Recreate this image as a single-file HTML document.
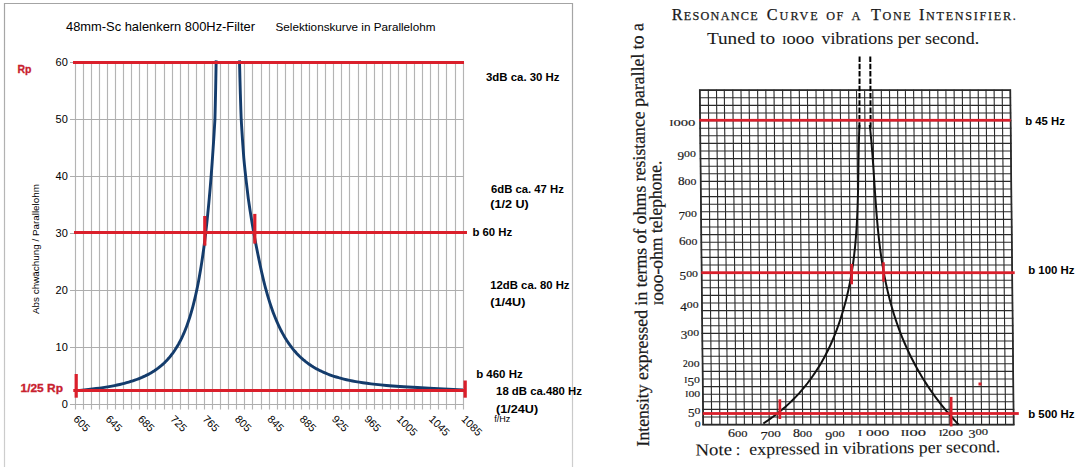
<!DOCTYPE html>
<html><head><meta charset="utf-8"><style>
html,body{margin:0;padding:0;background:#fff;width:1079px;height:467px;overflow:hidden}
svg{display:block}
</style></head><body>
<svg width="1079" height="467" viewBox="0 0 1079 467"><defs><linearGradient id="bg" x1="0" y1="0" x2="0" y2="1"><stop offset="0" stop-color="#a4a4a4"/><stop offset="1" stop-color="#cfcfcf"/></linearGradient></defs>
<path d="M4.5,467 V3.5 H572.5 V467" fill="none" stroke="url(#bg)" stroke-width="1.2"/>
<line x1="75.50" y1="62" x2="75.50" y2="409.5" stroke="#b4b4b4" stroke-width="1.15"/>
<line x1="83.50" y1="62" x2="83.50" y2="409.5" stroke="#b4b4b4" stroke-width="1.15"/>
<line x1="91.50" y1="62" x2="91.50" y2="409.5" stroke="#b4b4b4" stroke-width="1.15"/>
<line x1="99.50" y1="62" x2="99.50" y2="409.5" stroke="#b4b4b4" stroke-width="1.15"/>
<line x1="107.50" y1="62" x2="107.50" y2="409.5" stroke="#b4b4b4" stroke-width="1.15"/>
<line x1="115.50" y1="62" x2="115.50" y2="409.5" stroke="#b4b4b4" stroke-width="1.15"/>
<line x1="123.50" y1="62" x2="123.50" y2="409.5" stroke="#b4b4b4" stroke-width="1.15"/>
<line x1="131.50" y1="62" x2="131.50" y2="409.5" stroke="#b4b4b4" stroke-width="1.15"/>
<line x1="139.50" y1="62" x2="139.50" y2="409.5" stroke="#b4b4b4" stroke-width="1.15"/>
<line x1="147.50" y1="62" x2="147.50" y2="409.5" stroke="#b4b4b4" stroke-width="1.15"/>
<line x1="155.50" y1="62" x2="155.50" y2="409.5" stroke="#b4b4b4" stroke-width="1.15"/>
<line x1="164.50" y1="62" x2="164.50" y2="409.5" stroke="#b4b4b4" stroke-width="1.15"/>
<line x1="172.50" y1="62" x2="172.50" y2="409.5" stroke="#b4b4b4" stroke-width="1.15"/>
<line x1="180.50" y1="62" x2="180.50" y2="409.5" stroke="#b4b4b4" stroke-width="1.15"/>
<line x1="188.50" y1="62" x2="188.50" y2="409.5" stroke="#b4b4b4" stroke-width="1.15"/>
<line x1="196.50" y1="62" x2="196.50" y2="409.5" stroke="#b4b4b4" stroke-width="1.15"/>
<line x1="204.50" y1="62" x2="204.50" y2="409.5" stroke="#b4b4b4" stroke-width="1.15"/>
<line x1="212.50" y1="62" x2="212.50" y2="409.5" stroke="#b4b4b4" stroke-width="1.15"/>
<line x1="220.50" y1="62" x2="220.50" y2="409.5" stroke="#b4b4b4" stroke-width="1.15"/>
<line x1="228.50" y1="62" x2="228.50" y2="409.5" stroke="#b4b4b4" stroke-width="1.15"/>
<line x1="236.50" y1="62" x2="236.50" y2="409.5" stroke="#b4b4b4" stroke-width="1.15"/>
<line x1="244.50" y1="62" x2="244.50" y2="409.5" stroke="#b4b4b4" stroke-width="1.15"/>
<line x1="252.50" y1="62" x2="252.50" y2="409.5" stroke="#b4b4b4" stroke-width="1.15"/>
<line x1="261.50" y1="62" x2="261.50" y2="409.5" stroke="#b4b4b4" stroke-width="1.15"/>
<line x1="269.50" y1="62" x2="269.50" y2="409.5" stroke="#b4b4b4" stroke-width="1.15"/>
<line x1="277.50" y1="62" x2="277.50" y2="409.5" stroke="#b4b4b4" stroke-width="1.15"/>
<line x1="285.50" y1="62" x2="285.50" y2="409.5" stroke="#b4b4b4" stroke-width="1.15"/>
<line x1="293.50" y1="62" x2="293.50" y2="409.5" stroke="#b4b4b4" stroke-width="1.15"/>
<line x1="301.50" y1="62" x2="301.50" y2="409.5" stroke="#b4b4b4" stroke-width="1.15"/>
<line x1="309.50" y1="62" x2="309.50" y2="409.5" stroke="#b4b4b4" stroke-width="1.15"/>
<line x1="317.50" y1="62" x2="317.50" y2="409.5" stroke="#b4b4b4" stroke-width="1.15"/>
<line x1="325.50" y1="62" x2="325.50" y2="409.5" stroke="#b4b4b4" stroke-width="1.15"/>
<line x1="333.50" y1="62" x2="333.50" y2="409.5" stroke="#b4b4b4" stroke-width="1.15"/>
<line x1="341.50" y1="62" x2="341.50" y2="409.5" stroke="#b4b4b4" stroke-width="1.15"/>
<line x1="349.50" y1="62" x2="349.50" y2="409.5" stroke="#b4b4b4" stroke-width="1.15"/>
<line x1="358.50" y1="62" x2="358.50" y2="409.5" stroke="#b4b4b4" stroke-width="1.15"/>
<line x1="366.50" y1="62" x2="366.50" y2="409.5" stroke="#b4b4b4" stroke-width="1.15"/>
<line x1="374.50" y1="62" x2="374.50" y2="409.5" stroke="#b4b4b4" stroke-width="1.15"/>
<line x1="382.50" y1="62" x2="382.50" y2="409.5" stroke="#b4b4b4" stroke-width="1.15"/>
<line x1="390.50" y1="62" x2="390.50" y2="409.5" stroke="#b4b4b4" stroke-width="1.15"/>
<line x1="398.50" y1="62" x2="398.50" y2="409.5" stroke="#b4b4b4" stroke-width="1.15"/>
<line x1="406.50" y1="62" x2="406.50" y2="409.5" stroke="#b4b4b4" stroke-width="1.15"/>
<line x1="414.50" y1="62" x2="414.50" y2="409.5" stroke="#b4b4b4" stroke-width="1.15"/>
<line x1="422.50" y1="62" x2="422.50" y2="409.5" stroke="#b4b4b4" stroke-width="1.15"/>
<line x1="430.50" y1="62" x2="430.50" y2="409.5" stroke="#b4b4b4" stroke-width="1.15"/>
<line x1="438.50" y1="62" x2="438.50" y2="409.5" stroke="#b4b4b4" stroke-width="1.15"/>
<line x1="446.50" y1="62" x2="446.50" y2="409.5" stroke="#b4b4b4" stroke-width="1.15"/>
<line x1="455.50" y1="62" x2="455.50" y2="409.5" stroke="#b4b4b4" stroke-width="1.15"/>
<line x1="463.50" y1="62" x2="463.50" y2="409.5" stroke="#b4b4b4" stroke-width="1.15"/>
<line x1="70" y1="404.50" x2="463.5" y2="404.50" stroke="#adadad" stroke-width="1"/>
<text x="67.8" y="408.10" font-family="Liberation Sans, sans-serif" font-size="11" fill="#000" text-anchor="end">0</text>
<line x1="70" y1="347.50" x2="463.5" y2="347.50" stroke="#adadad" stroke-width="1"/>
<text x="67.8" y="351.10" font-family="Liberation Sans, sans-serif" font-size="11" fill="#000" text-anchor="end">10</text>
<line x1="70" y1="290.50" x2="463.5" y2="290.50" stroke="#adadad" stroke-width="1"/>
<text x="67.8" y="294.10" font-family="Liberation Sans, sans-serif" font-size="11" fill="#000" text-anchor="end">20</text>
<line x1="70" y1="233.50" x2="463.5" y2="233.50" stroke="#adadad" stroke-width="1"/>
<text x="67.8" y="237.10" font-family="Liberation Sans, sans-serif" font-size="11" fill="#000" text-anchor="end">30</text>
<line x1="70" y1="176.50" x2="463.5" y2="176.50" stroke="#adadad" stroke-width="1"/>
<text x="67.8" y="180.10" font-family="Liberation Sans, sans-serif" font-size="11" fill="#000" text-anchor="end">40</text>
<line x1="70" y1="119.50" x2="463.5" y2="119.50" stroke="#adadad" stroke-width="1"/>
<text x="67.8" y="123.10" font-family="Liberation Sans, sans-serif" font-size="11" fill="#000" text-anchor="end">50</text>
<line x1="70" y1="62.50" x2="463.5" y2="62.50" stroke="#adadad" stroke-width="1"/>
<text x="67.8" y="66.10" font-family="Liberation Sans, sans-serif" font-size="11" fill="#000" text-anchor="end">60</text>
<text transform="translate(72.70,419.8) rotate(45)" font-family="Liberation Sans, sans-serif" font-size="10.8" fill="#000">605</text>
<text transform="translate(105.03,419.8) rotate(45)" font-family="Liberation Sans, sans-serif" font-size="10.8" fill="#000">645</text>
<text transform="translate(137.36,419.8) rotate(45)" font-family="Liberation Sans, sans-serif" font-size="10.8" fill="#000">685</text>
<text transform="translate(169.70,419.8) rotate(45)" font-family="Liberation Sans, sans-serif" font-size="10.8" fill="#000">725</text>
<text transform="translate(202.03,419.8) rotate(45)" font-family="Liberation Sans, sans-serif" font-size="10.8" fill="#000">765</text>
<text transform="translate(234.36,419.8) rotate(45)" font-family="Liberation Sans, sans-serif" font-size="10.8" fill="#000">805</text>
<text transform="translate(266.69,419.8) rotate(45)" font-family="Liberation Sans, sans-serif" font-size="10.8" fill="#000">845</text>
<text transform="translate(299.02,419.8) rotate(45)" font-family="Liberation Sans, sans-serif" font-size="10.8" fill="#000">885</text>
<text transform="translate(331.36,419.8) rotate(45)" font-family="Liberation Sans, sans-serif" font-size="10.8" fill="#000">925</text>
<text transform="translate(363.69,419.8) rotate(45)" font-family="Liberation Sans, sans-serif" font-size="10.8" fill="#000">965</text>
<text transform="translate(396.02,419.8) rotate(45)" font-family="Liberation Sans, sans-serif" font-size="10.8" fill="#000">1005</text>
<text transform="translate(428.35,419.8) rotate(45)" font-family="Liberation Sans, sans-serif" font-size="10.8" fill="#000">1045</text>
<text transform="translate(460.68,419.8) rotate(45)" font-family="Liberation Sans, sans-serif" font-size="10.8" fill="#000">1085</text>
<text x="494.2" y="422.2" font-family="Liberation Sans, sans-serif" font-size="9.2" fill="#000" textLength="16" lengthAdjust="spacingAndGlyphs" >f/Hz</text>
<path d="M216.19,60.35 L216.00,69.45 L215.85,78.32 L215.69,86.94 L215.51,95.34 L215.33,103.52 L215.13,111.48 L214.93,119.23 L214.49,126.78 L214.05,134.12 L213.60,141.27 L213.14,148.23 L212.68,155.01 L212.22,161.61 L211.75,168.03 L211.27,174.29 L210.79,180.38 L210.31,186.30 L209.81,192.07 L209.32,197.69 L208.82,203.16 L208.31,208.48 L207.79,213.66 L207.28,218.71 L206.75,223.62 L206.22,228.40 L205.68,233.06 L205.14,237.59 L204.59,242.00 L204.03,246.30 L203.47,250.48 L202.90,254.55 L202.33,258.52 L201.74,262.38 L201.15,266.13 L200.56,269.79 L199.95,273.35 L199.34,276.81 L198.72,280.19 L198.10,283.47 L197.46,286.67 L196.82,289.79 L196.17,292.82 L195.51,295.77 L194.84,298.64 L194.17,301.44 L193.48,304.16 L192.79,306.81 L192.09,309.39 L191.38,311.90 L190.65,314.35 L189.92,316.73 L189.18,319.05 L188.43,321.30 L187.67,323.50 L186.89,325.64 L186.11,327.72 L185.32,329.75 L184.51,331.72 L183.69,333.64 L182.86,335.51 L182.01,337.33 L181.16,339.10 L180.29,340.83 L179.40,342.51 L178.51,344.15 L177.59,345.74 L176.67,347.29 L175.73,348.80 L174.77,350.27 L173.79,351.70 L172.80,353.09 L171.79,354.44 L170.77,355.76 L169.72,357.05 L168.66,358.30 L167.58,359.52 L166.47,360.70 L165.35,361.86 L164.20,362.98 L163.03,364.07 L161.83,365.14 L160.61,366.17 L159.37,367.18 L158.10,368.17 L156.80,369.12 L155.47,370.05 L154.11,370.96 L152.72,371.84 L151.29,372.70 L149.83,373.54 L148.33,374.35 L146.80,375.14 L145.22,375.92 L143.60,376.67 L141.94,377.40 L140.22,378.11 L138.46,378.82 L136.64,379.51 L134.77,380.19 L132.83,380.85 L130.84,381.49 L128.77,382.12 L126.63,382.73 L124.41,383.32 L122.10,383.91 L119.71,384.48 L117.21,385.03 L114.61,385.57 L111.89,386.10 L109.05,386.62 L106.06,387.12 L102.93,387.61 L99.62,388.09 L96.13,388.56 L92.44,389.02 L88.51,389.47 L84.31,389.91 L79.83,390.34 L75.00,390.77" fill="none" stroke="#143c6c" stroke-width="2.9" stroke-linejoin="round"/>
<path d="M239.45,60.35 L239.71,69.12 L239.91,77.66 L240.13,85.99 L240.36,94.10 L240.60,102.01 L240.86,109.71 L241.13,117.22 L241.52,124.54 L241.96,131.67 L242.42,138.62 L242.88,145.39 L243.35,151.99 L243.83,158.42 L244.43,164.69 L245.08,170.80 L245.73,176.75 L246.39,182.55 L247.05,188.20 L247.71,193.71 L248.38,199.08 L249.14,204.31 L249.91,209.41 L250.69,214.38 L251.47,219.22 L252.26,223.94 L253.04,228.53 L253.83,233.01 L254.61,237.38 L255.40,241.63 L256.19,245.78 L256.98,249.82 L257.78,253.76 L258.58,257.60 L259.37,261.34 L260.11,264.98 L260.86,268.53 L261.62,271.99 L262.39,275.36 L263.16,278.65 L263.94,281.85 L264.73,284.98 L265.53,288.02 L266.33,290.98 L267.14,293.87 L267.96,296.68 L268.79,299.43 L269.63,302.10 L270.48,304.71 L271.34,307.24 L272.20,309.72 L273.08,312.13 L273.96,314.48 L274.86,316.77 L275.77,319.00 L276.68,321.17 L277.61,323.29 L278.55,325.36 L279.51,327.37 L280.47,329.33 L281.45,331.24 L282.44,333.10 L283.44,334.92 L284.46,336.69 L285.50,338.41 L286.54,340.09 L287.61,341.73 L288.69,343.32 L289.78,344.88 L290.90,346.39 L292.03,347.87 L293.18,349.31 L294.35,350.71 L295.54,352.07 L296.75,353.40 L297.99,354.70 L299.24,355.97 L300.53,357.20 L301.83,358.40 L303.17,359.58 L304.53,360.72 L305.92,361.84 L307.34,362.92 L308.80,363.98 L310.29,365.01 L311.81,366.02 L313.38,367.00 L314.98,367.95 L316.63,368.89 L318.33,369.79 L320.07,370.68 L321.87,371.54 L323.72,372.38 L325.63,373.20 L327.61,374.00 L329.66,374.78 L331.78,375.54 L333.99,376.28 L336.29,377.00 L338.68,377.71 L341.18,378.39 L343.80,379.06 L346.55,379.72 L349.44,380.35 L352.50,380.97 L355.74,381.58 L359.18,382.17 L362.86,382.75 L366.81,383.31 L371.08,383.86 L375.72,384.40 L380.79,384.93 L386.40,385.47 L392.66,386.00 L399.75,386.53 L407.90,387.05 L417.48,387.57 L429.05,388.26 L443.60,389.06 L463.00,389.98" fill="none" stroke="#143c6c" stroke-width="2.9" stroke-linejoin="round"/>
<rect x="73.00" y="61.00" width="391.00" height="3.00" fill="#da1f2b"/>
<rect x="74.00" y="231.00" width="393.00" height="3.00" fill="#da1f2b"/>
<rect x="73.30" y="389.00" width="392.70" height="3.00" fill="#da1f2b"/>
<rect x="74.60" y="374.00" width="3.20" height="23.70" fill="#da1f2b"/>
<rect x="463.50" y="380.50" width="3.30" height="17.20" fill="#da1f2b"/>
<rect x="203.20" y="216.00" width="3.20" height="29.60" fill="#da1f2b"/>
<rect x="253.20" y="213.90" width="3.20" height="29.70" fill="#da1f2b"/>
<text x="66" y="30.8" font-family="Liberation Sans, sans-serif" font-size="13" fill="#000" textLength="189" lengthAdjust="spacingAndGlyphs" >48mm-Sc halenkern 800Hz-Filter</text>
<text x="275.5" y="30.8" font-family="Liberation Sans, sans-serif" font-size="11" fill="#000" textLength="160" lengthAdjust="spacingAndGlyphs" >Selektionskurve in Parallelohm</text>
<text transform="translate(38.6,314) rotate(-90)" font-family="Liberation Sans, sans-serif" font-size="9" fill="#000" textLength="130" lengthAdjust="spacingAndGlyphs">Abs chwächung / Parallelohm</text>
<text x="17.5" y="72.7" font-family="Liberation Sans, sans-serif" font-weight="bold" font-size="10.8" fill="#c8202e" textLength="14" lengthAdjust="spacingAndGlyphs" stroke="#c8202e" stroke-width="0.3">Rp</text>
<text x="20.5" y="391.9" font-family="Liberation Sans, sans-serif" font-weight="bold" font-size="10.8" fill="#c8202e" textLength="42.5" lengthAdjust="spacingAndGlyphs" stroke="#c8202e" stroke-width="0.3">1/25 Rp</text>
<text x="486" y="80.6" font-family="Liberation Sans, sans-serif" font-weight="bold" font-size="10.5" fill="#000" textLength="73.5" lengthAdjust="spacingAndGlyphs" >3dB ca. 30 Hz</text>
<text x="491" y="192.5" font-family="Liberation Sans, sans-serif" font-weight="bold" font-size="10.5" fill="#000" textLength="72.8" lengthAdjust="spacingAndGlyphs" >6dB ca. 47 Hz</text>
<text x="490.3" y="208.2" font-family="Liberation Sans, sans-serif" font-weight="bold" font-size="10.5" fill="#000" textLength="38.5" lengthAdjust="spacingAndGlyphs" >(1/2 U)</text>
<text x="472.4" y="236" font-family="Liberation Sans, sans-serif" font-weight="bold" font-size="10.5" fill="#000" textLength="39.8" lengthAdjust="spacingAndGlyphs" >b 60 Hz</text>
<text x="490.3" y="288.7" font-family="Liberation Sans, sans-serif" font-weight="bold" font-size="10.5" fill="#000" textLength="79.2" lengthAdjust="spacingAndGlyphs" >12dB ca. 80 Hz</text>
<text x="490.3" y="305.9" font-family="Liberation Sans, sans-serif" font-weight="bold" font-size="10.5" fill="#000" textLength="35.2" lengthAdjust="spacingAndGlyphs" >(1/4U)</text>
<text x="476.2" y="377.9" font-family="Liberation Sans, sans-serif" font-weight="bold" font-size="10.5" fill="#000" textLength="46.5" lengthAdjust="spacingAndGlyphs" >b 460 Hz</text>
<text x="496.1" y="394.6" font-family="Liberation Sans, sans-serif" font-weight="bold" font-size="10.5" fill="#000" textLength="85.8" lengthAdjust="spacingAndGlyphs" >18 dB ca.480 Hz</text>
<text x="496.1" y="412.6" font-family="Liberation Sans, sans-serif" font-weight="bold" font-size="10.5" fill="#000" textLength="42" lengthAdjust="spacingAndGlyphs" >(1/24U)</text>
<line x1="572.5" y1="3" x2="572.5" y2="467" stroke="url(#bg)" stroke-width="1.2"/>
<g transform="matrix(1,0,0.01018,1,-0.918,0)">
<line x1="699.80" y1="89.7" x2="699.80" y2="425.10" stroke="#2a2a2a" stroke-width="1.1"/>
<line x1="708.30" y1="89.7" x2="708.30" y2="425.10" stroke="#2a2a2a" stroke-width="1.1"/>
<line x1="716.50" y1="89.7" x2="716.50" y2="425.10" stroke="#2a2a2a" stroke-width="1.1"/>
<line x1="724.30" y1="89.7" x2="724.30" y2="425.10" stroke="#2a2a2a" stroke-width="1.1"/>
<line x1="732.80" y1="89.7" x2="732.80" y2="425.10" stroke="#2a2a2a" stroke-width="1.1"/>
<line x1="741.00" y1="89.7" x2="741.00" y2="425.10" stroke="#2a2a2a" stroke-width="1.1"/>
<line x1="749.10" y1="89.7" x2="749.10" y2="425.10" stroke="#2a2a2a" stroke-width="1.1"/>
<line x1="757.60" y1="89.7" x2="757.60" y2="425.10" stroke="#2a2a2a" stroke-width="1.1"/>
<line x1="765.80" y1="89.7" x2="765.80" y2="425.10" stroke="#2a2a2a" stroke-width="1.1"/>
<line x1="774.00" y1="89.7" x2="774.00" y2="425.10" stroke="#2a2a2a" stroke-width="1.1"/>
<line x1="782.60" y1="89.7" x2="782.60" y2="425.10" stroke="#2a2a2a" stroke-width="1.1"/>
<line x1="790.80" y1="89.7" x2="790.80" y2="425.10" stroke="#2a2a2a" stroke-width="1.1"/>
<line x1="799.30" y1="89.7" x2="799.30" y2="425.10" stroke="#2a2a2a" stroke-width="1.1"/>
<line x1="807.40" y1="89.7" x2="807.40" y2="425.10" stroke="#2a2a2a" stroke-width="1.1"/>
<line x1="816.00" y1="89.7" x2="816.00" y2="425.10" stroke="#2a2a2a" stroke-width="1.1"/>
<line x1="823.70" y1="89.7" x2="823.70" y2="425.10" stroke="#2a2a2a" stroke-width="1.1"/>
<line x1="831.90" y1="89.7" x2="831.90" y2="425.10" stroke="#2a2a2a" stroke-width="1.1"/>
<line x1="840.20" y1="89.7" x2="840.20" y2="425.10" stroke="#2a2a2a" stroke-width="1.1"/>
<line x1="848.60" y1="89.7" x2="848.60" y2="425.10" stroke="#2a2a2a" stroke-width="1.1"/>
<line x1="856.50" y1="89.7" x2="856.50" y2="425.10" stroke="#2a2a2a" stroke-width="1.1"/>
<line x1="864.60" y1="89.7" x2="864.60" y2="425.10" stroke="#2a2a2a" stroke-width="1.1"/>
<line x1="872.80" y1="89.7" x2="872.80" y2="425.10" stroke="#2a2a2a" stroke-width="1.1"/>
<line x1="881.30" y1="89.7" x2="881.30" y2="425.10" stroke="#2a2a2a" stroke-width="1.1"/>
<line x1="889.50" y1="89.7" x2="889.50" y2="425.10" stroke="#2a2a2a" stroke-width="1.1"/>
<line x1="897.60" y1="89.7" x2="897.60" y2="425.10" stroke="#2a2a2a" stroke-width="1.1"/>
<line x1="905.40" y1="89.7" x2="905.40" y2="425.10" stroke="#2a2a2a" stroke-width="1.1"/>
<line x1="913.60" y1="89.7" x2="913.60" y2="425.10" stroke="#2a2a2a" stroke-width="1.1"/>
<line x1="921.80" y1="89.7" x2="921.80" y2="425.10" stroke="#2a2a2a" stroke-width="1.1"/>
<line x1="929.60" y1="89.7" x2="929.60" y2="425.10" stroke="#2a2a2a" stroke-width="1.1"/>
<line x1="937.80" y1="89.7" x2="937.80" y2="425.10" stroke="#2a2a2a" stroke-width="1.1"/>
<line x1="945.90" y1="89.7" x2="945.90" y2="425.10" stroke="#2a2a2a" stroke-width="1.1"/>
<line x1="954.10" y1="89.7" x2="954.10" y2="425.10" stroke="#2a2a2a" stroke-width="1.1"/>
<line x1="962.30" y1="89.7" x2="962.30" y2="425.10" stroke="#2a2a2a" stroke-width="1.1"/>
<line x1="970.00" y1="89.7" x2="970.00" y2="425.10" stroke="#2a2a2a" stroke-width="1.1"/>
<line x1="978.20" y1="89.7" x2="978.20" y2="425.10" stroke="#2a2a2a" stroke-width="1.1"/>
<line x1="986.00" y1="89.7" x2="986.00" y2="425.10" stroke="#2a2a2a" stroke-width="1.1"/>
<line x1="994.10" y1="89.7" x2="994.10" y2="425.10" stroke="#2a2a2a" stroke-width="1.1"/>
<line x1="1002.20" y1="89.7" x2="1002.20" y2="425.10" stroke="#2a2a2a" stroke-width="1.1"/>
<line x1="1010.30" y1="89.7" x2="1010.30" y2="425.10" stroke="#2a2a2a" stroke-width="1.1"/>
<line x1="699.0999999999999" y1="90.20" x2="1011.00" y2="90.20" stroke="#2a2a2a" stroke-width="1.1"/>
<line x1="699.0999999999999" y1="97.80" x2="1011.00" y2="97.80" stroke="#2a2a2a" stroke-width="1.1"/>
<line x1="699.0999999999999" y1="105.40" x2="1011.00" y2="105.40" stroke="#2a2a2a" stroke-width="1.1"/>
<line x1="699.0999999999999" y1="113.00" x2="1011.00" y2="113.00" stroke="#2a2a2a" stroke-width="1.1"/>
<line x1="699.0999999999999" y1="120.60" x2="1011.00" y2="120.60" stroke="#2a2a2a" stroke-width="1.1"/>
<line x1="699.0999999999999" y1="128.20" x2="1011.00" y2="128.20" stroke="#2a2a2a" stroke-width="1.1"/>
<line x1="699.0999999999999" y1="135.80" x2="1011.00" y2="135.80" stroke="#2a2a2a" stroke-width="1.1"/>
<line x1="699.0999999999999" y1="143.40" x2="1011.00" y2="143.40" stroke="#2a2a2a" stroke-width="1.1"/>
<line x1="699.0999999999999" y1="151.00" x2="1011.00" y2="151.00" stroke="#2a2a2a" stroke-width="1.1"/>
<line x1="699.0999999999999" y1="158.60" x2="1011.00" y2="158.60" stroke="#2a2a2a" stroke-width="1.1"/>
<line x1="699.0999999999999" y1="166.20" x2="1011.00" y2="166.20" stroke="#2a2a2a" stroke-width="1.1"/>
<line x1="699.0999999999999" y1="173.80" x2="1011.00" y2="173.80" stroke="#2a2a2a" stroke-width="1.1"/>
<line x1="699.0999999999999" y1="181.40" x2="1011.00" y2="181.40" stroke="#2a2a2a" stroke-width="1.1"/>
<line x1="699.0999999999999" y1="189.00" x2="1011.00" y2="189.00" stroke="#2a2a2a" stroke-width="1.1"/>
<line x1="699.0999999999999" y1="196.60" x2="1011.00" y2="196.60" stroke="#2a2a2a" stroke-width="1.1"/>
<line x1="699.0999999999999" y1="204.20" x2="1011.00" y2="204.20" stroke="#2a2a2a" stroke-width="1.1"/>
<line x1="699.0999999999999" y1="211.80" x2="1011.00" y2="211.80" stroke="#2a2a2a" stroke-width="1.1"/>
<line x1="699.0999999999999" y1="219.40" x2="1011.00" y2="219.40" stroke="#2a2a2a" stroke-width="1.1"/>
<line x1="699.0999999999999" y1="227.00" x2="1011.00" y2="227.00" stroke="#2a2a2a" stroke-width="1.1"/>
<line x1="699.0999999999999" y1="234.60" x2="1011.00" y2="234.60" stroke="#2a2a2a" stroke-width="1.1"/>
<line x1="699.0999999999999" y1="242.20" x2="1011.00" y2="242.20" stroke="#2a2a2a" stroke-width="1.1"/>
<line x1="699.0999999999999" y1="249.80" x2="1011.00" y2="249.80" stroke="#2a2a2a" stroke-width="1.1"/>
<line x1="699.0999999999999" y1="257.40" x2="1011.00" y2="257.40" stroke="#2a2a2a" stroke-width="1.1"/>
<line x1="699.0999999999999" y1="265.00" x2="1011.00" y2="265.00" stroke="#2a2a2a" stroke-width="1.1"/>
<line x1="699.0999999999999" y1="272.60" x2="1011.00" y2="272.60" stroke="#2a2a2a" stroke-width="1.1"/>
<line x1="699.0999999999999" y1="280.20" x2="1011.00" y2="280.20" stroke="#2a2a2a" stroke-width="1.1"/>
<line x1="699.0999999999999" y1="287.80" x2="1011.00" y2="287.80" stroke="#2a2a2a" stroke-width="1.1"/>
<line x1="699.0999999999999" y1="295.40" x2="1011.00" y2="295.40" stroke="#2a2a2a" stroke-width="1.1"/>
<line x1="699.0999999999999" y1="303.00" x2="1011.00" y2="303.00" stroke="#2a2a2a" stroke-width="1.1"/>
<line x1="699.0999999999999" y1="310.60" x2="1011.00" y2="310.60" stroke="#2a2a2a" stroke-width="1.1"/>
<line x1="699.0999999999999" y1="318.20" x2="1011.00" y2="318.20" stroke="#2a2a2a" stroke-width="1.1"/>
<line x1="699.0999999999999" y1="325.80" x2="1011.00" y2="325.80" stroke="#2a2a2a" stroke-width="1.1"/>
<line x1="699.0999999999999" y1="333.40" x2="1011.00" y2="333.40" stroke="#2a2a2a" stroke-width="1.1"/>
<line x1="699.0999999999999" y1="341.00" x2="1011.00" y2="341.00" stroke="#2a2a2a" stroke-width="1.1"/>
<line x1="699.0999999999999" y1="348.60" x2="1011.00" y2="348.60" stroke="#2a2a2a" stroke-width="1.1"/>
<line x1="699.0999999999999" y1="356.20" x2="1011.00" y2="356.20" stroke="#2a2a2a" stroke-width="1.1"/>
<line x1="699.0999999999999" y1="363.80" x2="1011.00" y2="363.80" stroke="#2a2a2a" stroke-width="1.1"/>
<line x1="699.0999999999999" y1="371.40" x2="1011.00" y2="371.40" stroke="#2a2a2a" stroke-width="1.1"/>
<line x1="699.0999999999999" y1="379.00" x2="1011.00" y2="379.00" stroke="#2a2a2a" stroke-width="1.1"/>
<line x1="699.0999999999999" y1="386.60" x2="1011.00" y2="386.60" stroke="#2a2a2a" stroke-width="1.1"/>
<line x1="699.0999999999999" y1="394.20" x2="1011.00" y2="394.20" stroke="#2a2a2a" stroke-width="1.1"/>
<line x1="699.0999999999999" y1="401.80" x2="1011.00" y2="401.80" stroke="#2a2a2a" stroke-width="1.1"/>
<line x1="699.0999999999999" y1="409.40" x2="1011.00" y2="409.40" stroke="#2a2a2a" stroke-width="1.1"/>
<line x1="699.0999999999999" y1="417.00" x2="1011.00" y2="417.00" stroke="#2a2a2a" stroke-width="1.1"/>
<line x1="699.0999999999999" y1="424.60" x2="1011.00" y2="424.60" stroke="#2a2a2a" stroke-width="1.1"/>
<rect x="699.80" y="90.20" width="310.50" height="334.40" fill="none" stroke="#2a2a2a" stroke-width="1.7"/>
</g>
<path d="M859.45,125.00 L859.32,128.35 L859.20,131.71 L859.09,135.06 L858.99,138.42 L858.90,141.77 L858.82,145.12 L858.74,148.48 L858.67,151.83 L858.61,155.19 L858.55,158.54 L858.50,161.89 L858.45,165.25 L858.40,168.60 L858.35,171.96 L858.30,175.31 L858.24,178.66 L858.19,182.02 L858.13,185.37 L858.06,188.72 L857.99,192.08 L857.91,195.43 L857.82,198.79 L857.73,202.14 L857.62,205.49 L857.50,208.85 L857.37,212.20 L857.23,215.56 L857.07,218.91 L856.90,222.26 L856.71,225.62 L856.50,228.97 L856.27,232.33 L856.02,235.68 L855.76,239.03 L855.47,242.39 L855.15,245.74 L854.82,249.10 L854.45,252.45 L854.07,255.80 L853.65,259.16 L853.21,262.51 L852.74,265.87 L852.23,269.22 L851.70,272.57 L851.13,275.93 L850.53,279.28 L849.90,282.63 L849.23,285.99 L848.52,289.34 L847.77,292.70 L846.99,296.05 L846.17,299.40 L845.30,302.76 L844.40,306.11 L843.45,309.47 L842.45,312.82 L841.41,316.17 L840.33,319.53 L839.20,322.88 L838.02,326.24 L836.79,329.59 L835.51,332.94 L834.17,336.30 L832.78,339.65 L831.33,343.01 L829.80,346.36 L828.21,349.71 L826.54,353.07 L824.80,356.42 L822.97,359.78 L821.05,363.13 L819.04,366.48 L816.93,369.84 L814.73,373.19 L812.42,376.54 L810.00,379.90 L807.47,383.25 L804.81,386.61 L802.02,389.96 L799.08,393.31 L795.97,396.67 L792.68,400.02 L789.20,403.38 L785.50,406.73 L781.58,410.08 L777.42,413.44 L773.01,416.79 L768.32,420.15 L763.36,423.50" fill="none" stroke="#111" stroke-width="2.0"/>
<path d="M869.74,125.00 L870.10,128.37 L870.45,131.73 L870.77,135.10 L871.09,138.46 L871.39,141.83 L871.68,145.19 L871.95,148.56 L872.22,151.92 L872.48,155.29 L872.73,158.65 L872.97,162.02 L873.21,165.38 L873.44,168.75 L873.66,172.11 L873.89,175.48 L874.11,178.84 L874.33,182.21 L874.55,185.57 L874.77,188.94 L875.00,192.30 L875.23,195.67 L875.46,199.03 L875.70,202.40 L875.95,205.76 L876.20,209.13 L876.46,212.49 L876.73,215.86 L877.02,219.22 L877.31,222.59 L877.62,225.96 L877.94,229.32 L878.28,232.69 L878.63,236.05 L879.00,239.42 L879.39,242.78 L879.80,246.15 L880.23,249.51 L880.68,252.88 L881.16,256.24 L881.65,259.61 L882.17,262.97 L882.72,266.34 L883.30,269.70 L883.90,273.07 L884.53,276.43 L885.19,279.80 L885.88,283.16 L886.61,286.53 L887.36,289.89 L888.16,293.26 L888.98,296.62 L889.85,299.99 L890.75,303.35 L891.69,306.72 L892.67,310.08 L893.69,313.45 L894.75,316.81 L895.85,320.18 L897.00,323.54 L898.20,326.91 L899.44,330.28 L900.72,333.64 L902.06,337.01 L903.44,340.37 L904.88,343.74 L906.36,347.10 L907.90,350.47 L909.49,353.83 L911.14,357.20 L912.84,360.56 L914.60,363.93 L916.42,367.29 L918.31,370.66 L920.26,374.02 L922.28,377.39 L924.36,380.75 L926.51,384.12 L928.74,387.48 L931.04,390.85 L933.41,394.21 L935.87,397.58 L938.40,400.94 L941.01,404.31 L943.70,407.67 L946.48,411.04 L949.35,414.40 L952.30,417.77 L955.35,421.13 L958.48,424.50" fill="none" stroke="#111" stroke-width="2.0"/>
<line x1="859.6" y1="56.5" x2="859.4" y2="128" stroke="#000" stroke-width="2" stroke-dasharray="5.5,1.8"/>
<line x1="870.3" y1="56.5" x2="870.6" y2="128" stroke="#000" stroke-width="2" stroke-dasharray="5.5,1.8"/>
<rect x="699.30" y="118.90" width="311.40" height="2.70" fill="#da1f2b"/>
<rect x="701.30" y="271.30" width="313.40" height="2.80" fill="#da1f2b"/>
<rect x="702.80" y="412.10" width="316.00" height="2.80" fill="#da1f2b"/>
<rect x="850.30" y="263.90" width="2.70" height="20.40" fill="#da1f2b"/>
<rect x="882.20" y="262.30" width="2.60" height="19.30" fill="#da1f2b"/>
<rect x="778.50" y="399.30" width="2.70" height="19.70" fill="#da1f2b"/>
<rect x="949.80" y="396.90" width="2.70" height="29.50" fill="#da1f2b"/>
<rect x="978.50" y="382.50" width="3.00" height="3.00" fill="#da1f2b"/>
<text x="671.8" y="19.5" font-family="Liberation Serif, serif" font-size="16.2" fill="#1a1a1a" stroke="#1a1a1a" stroke-width="0.25" textLength="85.8" lengthAdjust="spacing">R<tspan font-size="12.2">ESONANCE</tspan></text>
<text x="766.8" y="19.5" font-family="Liberation Serif, serif" font-size="16.2" fill="#1a1a1a" stroke="#1a1a1a" stroke-width="0.25" textLength="51.0" lengthAdjust="spacing">C<tspan font-size="12.2">URVE</tspan></text>
<text x="826.2" y="19.5" font-family="Liberation Serif, serif" font-size="12.2" fill="#1a1a1a" stroke="#1a1a1a" stroke-width="0.25" textLength="17.2" lengthAdjust="spacing">OF</text>
<text x="851.5" y="19.5" font-family="Liberation Serif, serif" font-size="12.2" fill="#1a1a1a" stroke="#1a1a1a" stroke-width="0.25" textLength="9" lengthAdjust="spacingAndGlyphs">A</text>
<text x="870.9" y="19.5" font-family="Liberation Serif, serif" font-size="16.2" fill="#1a1a1a" stroke="#1a1a1a" stroke-width="0.25" textLength="39.9" lengthAdjust="spacing">T<tspan font-size="12.2">ONE</tspan></text>
<text x="919.0" y="19.5" font-family="Liberation Serif, serif" font-size="16.2" fill="#1a1a1a" stroke="#1a1a1a" stroke-width="0.25" textLength="96.8" lengthAdjust="spacing">I<tspan font-size="12.2">NTENSIFIER.</tspan></text>
<text x="706.9" y="43.6" font-family="Liberation Serif, serif" font-size="17.4" fill="#1a1a1a" textLength="68.2" lengthAdjust="spacingAndGlyphs" stroke="#1a1a1a" stroke-width="0.08">Tuned to</text>
<text x="782.0" y="43.6" font-family="Liberation Serif, serif" font-size="17.4" fill="#1a1a1a" textLength="32.3" lengthAdjust="spacingAndGlyphs" stroke="#1a1a1a" stroke-width="0.08"><tspan font-size="13">I</tspan>ooo</text>
<text x="821.6" y="43.6" font-family="Liberation Serif, serif" font-size="17.4" fill="#1a1a1a" textLength="157.6" lengthAdjust="spacingAndGlyphs" stroke="#1a1a1a" stroke-width="0.08">vibrations per second.</text>
<text transform="translate(649,446.5) rotate(-90.8)" font-family="Liberation Serif, serif" font-size="18" fill="#1a1a1a" stroke="#1a1a1a" stroke-width="0.25" textLength="423.5" lengthAdjust="spacingAndGlyphs">Intensity expressed in terms of ohms resistance parallel to a</text>
<text transform="translate(663.1,305) rotate(-90.8)" font-family="Liberation Serif, serif" font-size="18" fill="#1a1a1a" stroke="#1a1a1a" stroke-width="0.25" textLength="144.5" lengthAdjust="spacingAndGlyphs"><tspan font-size="13">I</tspan>ooo-ohm telephone.</text>
<text x="669.6" y="126.1" font-family="Liberation Serif, serif" fill="#1a1a1a" stroke="#1a1a1a" stroke-width="0.2" textLength="25.8" lengthAdjust="spacingAndGlyphs"><tspan font-size="9.2" dy="0.0">I</tspan><tspan font-size="11.8" dy="0.0">o</tspan><tspan font-size="11.8" dy="0.0">o</tspan><tspan font-size="11.8" dy="0.0">o</tspan></text>
<text x="695.9" y="156.6" font-family="Liberation Serif, serif" fill="#1a1a1a" stroke="#1a1a1a" stroke-width="0.2" text-anchor="end"><tspan font-size="13.2" dy="3.2">9</tspan><tspan font-size="11.8" dy="-3.2">o</tspan><tspan font-size="11.8" dy="0.0">o</tspan></text>
<text x="696.4" y="185.1" font-family="Liberation Serif, serif" fill="#1a1a1a" stroke="#1a1a1a" stroke-width="0.2" text-anchor="end"><tspan font-size="13.2" dy="0.0">8</tspan><tspan font-size="11.8" dy="0.0">o</tspan><tspan font-size="11.8" dy="0.0">o</tspan></text>
<text x="696.9" y="216.9" font-family="Liberation Serif, serif" fill="#1a1a1a" stroke="#1a1a1a" stroke-width="0.2" text-anchor="end"><tspan font-size="13.2" dy="3.2">7</tspan><tspan font-size="11.8" dy="-3.2">o</tspan><tspan font-size="11.8" dy="0.0">o</tspan></text>
<text x="697.4" y="244.9" font-family="Liberation Serif, serif" fill="#1a1a1a" stroke="#1a1a1a" stroke-width="0.2" text-anchor="end"><tspan font-size="13.2" dy="0.0">6</tspan><tspan font-size="11.8" dy="0.0">o</tspan><tspan font-size="11.8" dy="0.0">o</tspan></text>
<text x="698.0" y="276.9" font-family="Liberation Serif, serif" fill="#1a1a1a" stroke="#1a1a1a" stroke-width="0.2" text-anchor="end"><tspan font-size="13.2" dy="3.2">5</tspan><tspan font-size="11.8" dy="-3.2">o</tspan><tspan font-size="11.8" dy="0.0">o</tspan></text>
<text x="698.6" y="308.1" font-family="Liberation Serif, serif" fill="#1a1a1a" stroke="#1a1a1a" stroke-width="0.2" text-anchor="end"><tspan font-size="13.2" dy="3.2">4</tspan><tspan font-size="11.8" dy="-3.2">o</tspan><tspan font-size="11.8" dy="0.0">o</tspan></text>
<text x="699.1" y="335.6" font-family="Liberation Serif, serif" fill="#1a1a1a" stroke="#1a1a1a" stroke-width="0.2" text-anchor="end"><tspan font-size="13.2" dy="3.2">3</tspan><tspan font-size="11.8" dy="-3.2">o</tspan><tspan font-size="11.8" dy="0.0">o</tspan></text>
<text x="699.6" y="366.7" font-family="Liberation Serif, serif" fill="#1a1a1a" stroke="#1a1a1a" stroke-width="0.2" text-anchor="end"><tspan font-size="9.4" dy="0.0">2</tspan><tspan font-size="11.8" dy="0.0">o</tspan><tspan font-size="11.8" dy="0.0">o</tspan></text>
<text x="699.9" y="382.6" font-family="Liberation Serif, serif" fill="#1a1a1a" stroke="#1a1a1a" stroke-width="0.2" text-anchor="end"><tspan font-size="9.2" dy="0.0">I</tspan><tspan font-size="13.2" dy="3.2">5</tspan><tspan font-size="11.8" dy="-3.2">o</tspan></text>
<text x="700.2" y="397.1" font-family="Liberation Serif, serif" fill="#1a1a1a" stroke="#1a1a1a" stroke-width="0.2" text-anchor="end"><tspan font-size="9.2" dy="0.0">I</tspan><tspan font-size="11.8" dy="0.0">o</tspan><tspan font-size="11.8" dy="0.0">o</tspan></text>
<text x="700.5" y="413.9" font-family="Liberation Serif, serif" fill="#1a1a1a" stroke="#1a1a1a" stroke-width="0.2" text-anchor="end"><tspan font-size="13.2" dy="3.2">5</tspan><tspan font-size="11.8" dy="-3.2">o</tspan></text>
<text x="700.7" y="427.4" font-family="Liberation Serif, serif" fill="#1a1a1a" stroke="#1a1a1a" stroke-width="0.2" text-anchor="end"><tspan font-size="11.8" dy="0.0">o</tspan></text>
<text x="728" y="437.40" font-family="Liberation Serif, serif" fill="#1a1a1a" stroke="#1a1a1a" stroke-width="0.2" textLength="19.5" lengthAdjust="spacingAndGlyphs"><tspan font-size="13.2" dy="0.0">6</tspan><tspan font-size="11.8" dy="0.0">o</tspan><tspan font-size="11.8" dy="0.0">o</tspan></text>
<text x="760.4" y="437.11" font-family="Liberation Serif, serif" fill="#1a1a1a" stroke="#1a1a1a" stroke-width="0.2" textLength="20.4" lengthAdjust="spacingAndGlyphs"><tspan font-size="13.2" dy="3.2">7</tspan><tspan font-size="11.8" dy="-3.2">o</tspan><tspan font-size="11.8" dy="0.0">o</tspan></text>
<text x="792.9" y="436.82" font-family="Liberation Serif, serif" fill="#1a1a1a" stroke="#1a1a1a" stroke-width="0.2" textLength="19.4" lengthAdjust="spacingAndGlyphs"><tspan font-size="13.2" dy="0.0">8</tspan><tspan font-size="11.8" dy="0.0">o</tspan><tspan font-size="11.8" dy="0.0">o</tspan></text>
<text x="825.3" y="436.52" font-family="Liberation Serif, serif" fill="#1a1a1a" stroke="#1a1a1a" stroke-width="0.2" textLength="19.5" lengthAdjust="spacingAndGlyphs"><tspan font-size="13.2" dy="3.2">9</tspan><tspan font-size="11.8" dy="-3.2">o</tspan><tspan font-size="11.8" dy="0.0">o</tspan></text>
<text x="858.0" y="436.23" font-family="Liberation Serif, serif" fill="#1a1a1a" stroke="#1a1a1a" stroke-width="0.2" textLength="31.3" lengthAdjust="spacingAndGlyphs"><tspan font-size="9.2" dy="0.0">I</tspan><tspan font-size="11.8" dy="0.0"> </tspan><tspan font-size="11.8" dy="0.0">o</tspan><tspan font-size="11.8" dy="0.0">o</tspan><tspan font-size="11.8" dy="0.0">o</tspan></text>
<text x="900.8" y="435.84" font-family="Liberation Serif, serif" fill="#1a1a1a" stroke="#1a1a1a" stroke-width="0.2" textLength="25.2" lengthAdjust="spacingAndGlyphs"><tspan font-size="9.2" dy="0.0">I</tspan><tspan font-size="9.2" dy="0.0">I</tspan><tspan font-size="11.8" dy="0.0">o</tspan><tspan font-size="11.8" dy="0.0">o</tspan></text>
<text x="938.8" y="435.50" font-family="Liberation Serif, serif" fill="#1a1a1a" stroke="#1a1a1a" stroke-width="0.2" textLength="24.2" lengthAdjust="spacingAndGlyphs"><tspan font-size="9.2" dy="0.0">I</tspan><tspan font-size="9.4" dy="0.0">2</tspan><tspan font-size="11.8" dy="0.0">o</tspan><tspan font-size="11.8" dy="0.0">o</tspan></text>
<text x="968.4" y="435.24" font-family="Liberation Serif, serif" fill="#1a1a1a" stroke="#1a1a1a" stroke-width="0.2" textLength="19.7" lengthAdjust="spacingAndGlyphs"><tspan font-size="13.2" dy="3.2">3</tspan><tspan font-size="11.8" dy="-3.2">o</tspan><tspan font-size="11.8" dy="0.0">o</tspan></text>
<g transform="rotate(-0.62 696 455.4)">
<text x="695.4" y="455.4" font-family="Liberation Serif, serif" font-size="16.8" fill="#1a1a1a" textLength="36.6" lengthAdjust="spacingAndGlyphs" stroke="#1a1a1a" stroke-width="0.08">Note</text>
<text x="735.8" y="455.4" font-family="Liberation Serif, serif" font-size="16.8" fill="#1a1a1a" stroke="#1a1a1a" stroke-width="0.08">:</text>
<text x="749.3" y="455.4" font-family="Liberation Serif, serif" font-size="16.8" fill="#1a1a1a" textLength="251" lengthAdjust="spacingAndGlyphs" stroke="#1a1a1a" stroke-width="0.08">expressed in vibrations per second.</text>
</g>
<text x="1025.2" y="124.8" font-family="Liberation Sans, sans-serif" font-weight="bold" font-size="10.5" fill="#000" textLength="39.6" lengthAdjust="spacingAndGlyphs" >b 45 Hz</text>
<text x="1028.2" y="273.7" font-family="Liberation Sans, sans-serif" font-weight="bold" font-size="10.5" fill="#000" textLength="46.4" lengthAdjust="spacingAndGlyphs" >b 100 Hz</text>
<text x="1028.2" y="417.7" font-family="Liberation Sans, sans-serif" font-weight="bold" font-size="10.5" fill="#000" textLength="46.4" lengthAdjust="spacingAndGlyphs" >b 500 Hz</text></svg>
</body></html>
